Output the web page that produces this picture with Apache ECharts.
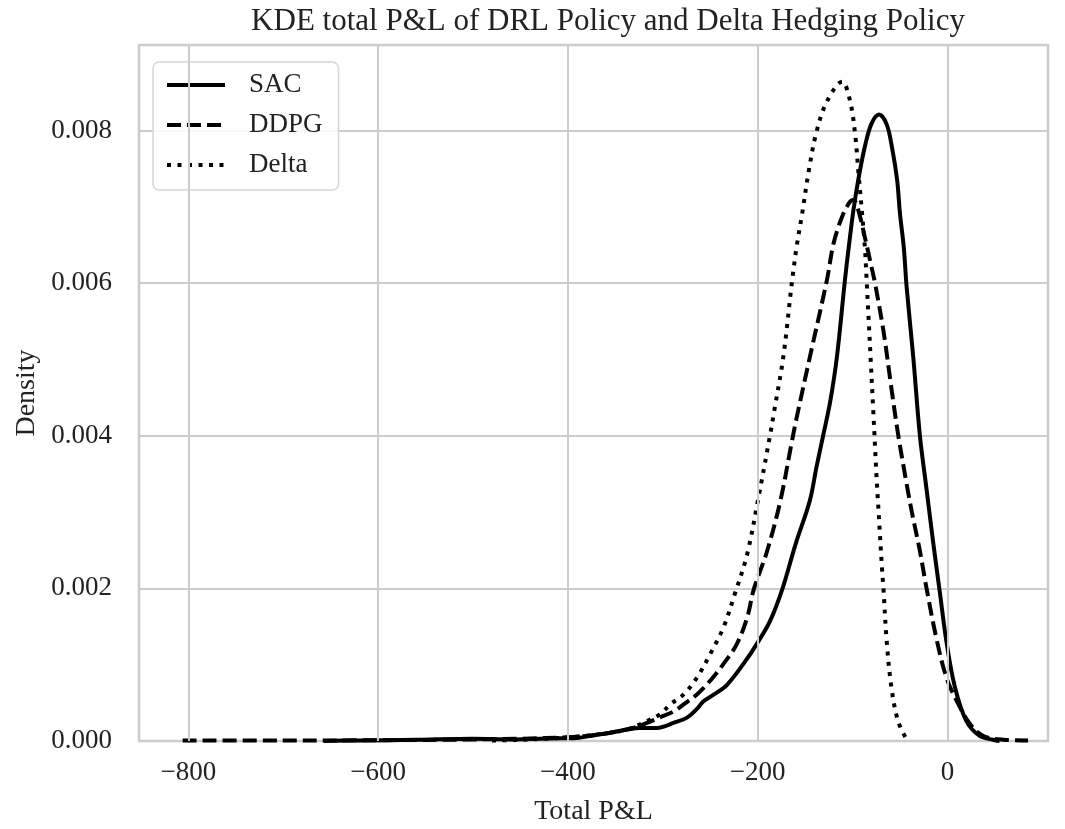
<!DOCTYPE html>
<html>
<head>
<meta charset="utf-8">
<title>KDE total P&amp;L</title>
<script src="https://cdn.jsdelivr.net/npm/echarts@6/dist/echarts.min.js"></script>
<style>
  html, body { margin: 0; padding: 0; background: #fff; }
  #chart { width: 1065px; height: 829px; }
</style>
</head>
<body>
<div id="chart"></div>
<script>
// values (x = total P&L, y = density)
var sacX = [-657, -620, -560, -500, -460, -430, -407, -390, -373, -355, -338, -324, -306, -288, -274, -264, -257, -246, -232, -215, -201, -187, -174, -160, -145, -138, -131, -123.5, -116.5, -108, -104, -99, -94, -87, -80, -72, -64, -58, -53, -50, -46, -43, -36, -29, -22, -15, -8, -1, 8, 20, 34, 48, 55]
var sacY = [0, 0.000008, 0.000015, 0.00003, 0.00002, 0.00003, 0.000035, 0.00004, 0.000075, 0.00011, 0.00015, 0.00017, 0.00017, 0.00024, 0.00031, 0.00042, 0.00052, 0.00061, 0.00074, 0.00101, 0.00127, 0.00157, 0.00199, 0.00258, 0.00315, 0.00359, 0.0040, 0.00445, 0.00503, 0.00604, 0.00647, 0.00696, 0.00735, 0.00779, 0.00809, 0.00821, 0.00808, 0.00775, 0.00735, 0.00691, 0.00647, 0.00595, 0.00503, 0.0040, 0.0033, 0.0026, 0.00195, 0.0013, 0.0007, 0.00026, 0.000066, 0.000017, 0]

var ddpgX = [-806, -700, -600, -500, -450, -400, -370, -338, -320, -303, -288, -278, -264, -250, -236, -222, -211, -204, -190, -176, -164, -159, -145, -127, -120, -111, -103, -99, -94, -87, -80, -76, -67, -59, -52, -43, -37, -29, -22, -11, -1, 10, 24, 38, 59, 85]
var ddpgY = [0.000005, 0.000005, 0.00001, 0.00002, 0.00003, 0.00005, 0.00008, 0.00015, 0.00022, 0.00031, 0.00039, 0.00048, 0.00061, 0.00079, 0.00101, 0.00127, 0.00162, 0.00199, 0.00249, 0.00315, 0.00392, 0.00423, 0.00503, 0.00604, 0.00652, 0.00687, 0.00706, 0.00709, 0.00696, 0.0066, 0.00621, 0.00598, 0.00534, 0.00462, 0.00402, 0.00337, 0.00297, 0.00249, 0.00200, 0.00131, 0.00083, 0.00052, 0.00022, 0.000066, 0.000017, 0.000008]

var deltaX = [-480, -440, -410, -380, -360, -338, -317, -303, -292, -278, -264, -250, -236, -224, -211, -199, -187, -183, -173, -164, -159, -153, -146, -138, -127, -111, -102.5, -97, -94, -90, -87, -85, -81, -78, -74.5, -73, -69, -67.4, -64, -59, -52, -43]
var deltaY = [0.000005, 0.00002, 0.00004, 0.00007, 0.0001, 0.00015, 0.00026, 0.00035, 0.00048, 0.00061, 0.00083, 0.00114, 0.00149, 0.00193, 0.00245, 0.0032, 0.0040, 0.00429, 0.00503, 0.0060, 0.00647, 0.00692, 0.00748, 0.00798, 0.00838, 0.00864, 0.00838, 0.00792, 0.00748, 0.00692, 0.00647, 0.006, 0.00503, 0.00429, 0.00341, 0.0031, 0.00227, 0.00199, 0.00131, 0.0007, 0.00026, 0.00002]

var xTicks = [-800, -600, -400, -200, 0]
var seriesNames = ['SAC', 'DDPG', 'Delta']

var FONT = '"Liberation Serif", "DejaVu Serif", serif'
var GRID_COLOR = '#cccccc'

function pairs(xs, ys) {
  return xs.map(function (x, i) { return [x, ys[i]] })
}

function kdeLine(name, xs, ys, dash) {
  return {
    name: name,
    type: 'line',
    data: pairs(xs, ys),
    symbol: 'none',
    smooth: 0.35,
    z: 3,
    lineStyle: { color: '#000', width: 4, type: dash, cap: 'butt', join: 'round' },
    itemStyle: { color: 'rgba(0,0,0,0)' }
  }
}

var chart = echarts.init(document.getElementById('chart'))
chart.setOption({
  backgroundColor: '#fff',
  animation: false,
  title: {
    text: 'KDE total P&L of DRL Policy and Delta Hedging Policy',
    left: 603,
    textAlign: 'center',
    top: 1,
    textStyle: { fontFamily: FONT, fontSize: 31, fontWeight: 'normal', color: '#222' }
  },
  legend: {
    orient: 'vertical',
    left: 153,
    top: 62,
    data: seriesNames,
    itemWidth: 58,
    itemHeight: 14,
    itemGap: 10,
    padding: [8, 16, 10, 12],
    backgroundColor: 'rgba(255,255,255,0.85)',
    borderColor: '#d6d6d6',
    borderWidth: 1.5,
    borderRadius: 6,
    itemStyle: { opacity: 0 },
    lineStyle: { width: 4, color: '#000' },
    textStyle: { fontFamily: FONT, fontSize: 27, color: '#222', lineHeight: 30, padding: [0, 0, 0, 19] }
  },
  grid: {
    left: 139,
    right: 17,
    top: 45,
    bottom: 88,
    outerBoundsMode: 'none',
    show: true,
    borderColor: GRID_COLOR,
    borderWidth: 2.5,
    backgroundColor: '#fff'
  },
  xAxis: {
    type: 'value',
    min: -852,
    max: 106,
    name: 'Total P&L',
    nameLocation: 'middle',
    nameGap: 57,
    nameTextStyle: { fontFamily: FONT, fontSize: 28, color: '#222' },
    axisLine: { show: false },
    axisTick: { show: false },
    splitLine: { show: false },
    axisLabel: {
      customValues: xTicks,
      margin: 18,
      fontFamily: FONT,
      fontSize: 27,
      color: '#222',
      formatter: function (v) { return String(v).replace('-', '\u2212') }
    }
  },
  yAxis: {
    type: 'value',
    min: 0,
    max: 0.00912,
    interval: 0.002,
    name: 'Density',
    nameLocation: 'middle',
    nameGap: 98,
    nameTextStyle: { fontFamily: FONT, fontSize: 28, color: '#222' },
    axisLine: { show: false },
    axisTick: { show: false },
    splitLine: { show: true, lineStyle: { color: GRID_COLOR, width: 2 } },
    axisLabel: {
      margin: 27,
      showMaxLabel: false,
      fontFamily: FONT,
      fontSize: 27,
      color: '#222',
      formatter: function (v) { return v.toFixed(3) }
    }
  },
  series: [
    {
      name: 'grid-x',
      type: 'line',
      data: [],
      z: 1,
      silent: true,
      markLine: {
        silent: true,
        symbol: 'none',
        label: { show: false },
        lineStyle: { color: GRID_COLOR, width: 2, type: 'solid' },
        data: xTicks.map(function (v) { return { xAxis: v } })
      }
    },
    kdeLine('SAC', sacX, sacY, 'solid'),
    kdeLine('DDPG', ddpgX, ddpgY, [14, 6]),
    kdeLine('Delta', deltaX, deltaY, [4, 6.5])
  ]
})
</script>
</body>
</html>
